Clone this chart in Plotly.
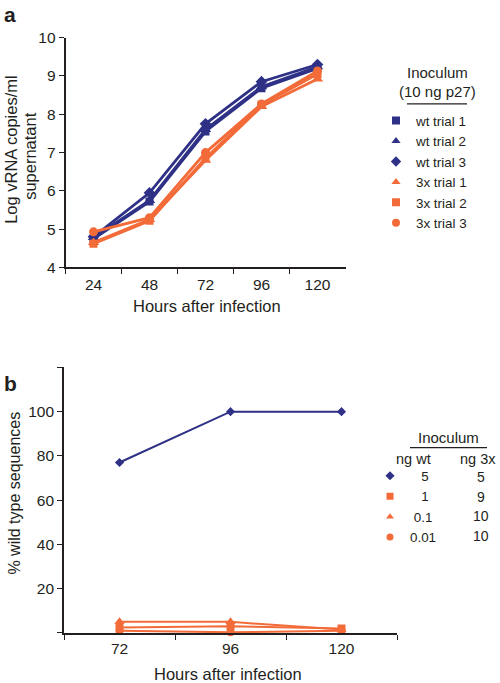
import plotly.graph_objects as go

# ---------------- data ----------------
hours_a = ["24", "48", "72", "96", "120"]
wt_trial1 = [4.75, 5.72, 7.55, 8.68, 9.20]
wt_trial2 = [4.78, 5.75, 7.60, 8.72, 9.24]
wt_trial3 = [4.80, 5.95, 7.75, 8.85, 9.30]
x3_trial1 = [4.65, 5.25, 6.80, 8.20, 8.92]
x3_trial2 = [4.62, 5.22, 6.85, 8.25, 9.05]
x3_trial3 = [4.93, 5.30, 7.00, 8.27, 9.13]

hours_b = ["72", "96", "120"]
wt_5ng = [77, 100, 100]
x3_1ng = [2.5, 3, 2]
x3_01ng = [5, 5, 1.5]
x3_001ng = [1, 0.3, 1]
ng_wt = ["5", "1", "0.1", "0.01"]
ng_3x = ["5", "9", "10", "10"]
names_a = ["wt trial 1", "wt trial 2", "wt trial 3", "3x trial 1", "3x trial 2", "3x trial 3"]

NAVY = "#2e3186"
ORANGE = "#f26b38"
TXT = "#231f20"
FONT = "Liberation Sans, Arial, sans-serif"

W, H = 500, 683
def px(x):
    return x / W
def py(t):
    # t: target pixel row in the final picture
    return 1 - ((t - 8.0) / 0.976) / H

fig = go.Figure()

series_a = [
    (wt_trial1, NAVY, "square", 8),
    (wt_trial2, NAVY, "triangle-up", 10),
    (wt_trial3, NAVY, "diamond", 9),
    (x3_trial1, ORANGE, "triangle-up", 10),
    (x3_trial2, ORANGE, "square", 8),
    (x3_trial3, ORANGE, "circle", 9),
]
for vals, col, sym, sz in series_a:
    fig.add_trace(go.Scatter(
        x=hours_a, y=vals, mode="lines+markers", xaxis="x", yaxis="y",
        line=dict(color=col, width=2.8),
        marker=dict(symbol=sym, size=sz, color=col, line=dict(width=0)),
        showlegend=False, hoverinfo="skip"))

# legend keys panel a
for (vals, col, sym, sz), nm in zip(series_a, names_a):
    fig.add_trace(go.Scatter(
        x=[None], y=[None], mode="markers", xaxis="x", yaxis="y",
        marker=dict(symbol=sym, size=8, color=col),
        name=nm, legend="legend", showlegend=True))

series_b = [
    (wt_5ng, NAVY, "diamond", 7),
    (x3_1ng, ORANGE, "square", 8),
    (x3_01ng, ORANGE, "triangle-up", 9),
    (x3_001ng, ORANGE, "circle", 8),
]
for vals, col, sym, sz in series_b:
    fig.add_trace(go.Scatter(
        x=hours_b, y=vals, mode="lines+markers", xaxis="x2", yaxis="y2",
        line=dict(color=col, width=2),
        marker=dict(symbol=sym, size=sz, color=col, line=dict(width=0)),
        showlegend=False, hoverinfo="skip", cliponaxis=False))

pad = {"5": "\u00a0\u00a0\u00a0", "1": "\u00a0\u00a0\u00a0", "0.1": "\u00a0", "0.01": ""}
for (vals, col, sym, sz), nm in zip(series_b, ng_wt):
    fig.add_trace(go.Scatter(
        x=[None], y=[None], mode="markers", xaxis="x2", yaxis="y2",
        marker=dict(symbol=sym, size=7, color=col),
        name=pad[nm] + nm, legend="legend2", showlegend=True))

axis_common = dict(showline=True, linecolor=TXT, linewidth=1.6, ticks="outside",
                   ticklen=5, tickwidth=1.4, tickcolor=TXT, showgrid=False,
                   zeroline=False, tickfont=dict(family=FONT, size=15.5, color=TXT))

fig.update_layout(
    width=W, height=H, margin=dict(l=0, r=0, t=0, b=0),
    paper_bgcolor="white", plot_bgcolor="white",
    font=dict(family=FONT, color=TXT),
    xaxis=dict(axis_common, type="category", tickson="boundaries", range=[-0.5, 4.5],
               domain=[px(65.5), px(345.5)], anchor="y", ticklabelstandoff=2),
    yaxis=dict(axis_common, range=[4, 10], dtick=1, domain=[py(266.7), py(36.7)], anchor="x"),
    xaxis2=dict(axis_common, type="category", tickson="boundaries", range=[-0.5, 2.5],
                domain=[px(64), px(397)], anchor="y2", ticklabelstandoff=1),
    yaxis2=dict(axis_common, range=[0, 120], tickvals=[0, 20, 40, 60, 80, 100, 120],
                ticktext=["", "20", "40", "60", "80", "100", ""],
                domain=[py(632.5), py(366.7)], anchor="x2"),
    legend=dict(x=px(376), y=py(104.5), xanchor="left", yanchor="top",
                font=dict(family=FONT, size=13.4, color=TXT), bgcolor="rgba(0,0,0,0)",
                borderwidth=0, tracegroupgap=0),
    legend2=dict(x=px(370), y=py(460), xanchor="left", yanchor="top",
                 font=dict(family=FONT, size=13.4, color=TXT), bgcolor="rgba(0,0,0,0)",
                 borderwidth=0, tracegroupgap=0),
)

ann = []
def add_text(x, y, text, size=15, angle=0, bold=False):
    ann.append(dict(xref="paper", yref="paper", x=px(x), y=py(y), text=("<b>%s</b>" % text) if bold else text,
                    showarrow=False, xanchor="center", yanchor="middle", textangle=angle,
                    font=dict(family=FONT, size=size, color=TXT)))

add_text(10, 14, "a", size=21, bold=True)
add_text(10, 383, "b", size=21, bold=True)
add_text(11, 149, "Log vRNA copies/ml", size=16.5, angle=-90)
add_text(30, 155, "supernatant", size=16.5, angle=-90)
add_text(15, 493, "% wild type sequences", size=16, angle=-90)
add_text(207, 305, "Hours after infection", size=16.5)
add_text(228, 673.5, "Hours after infection", size=16.5)
add_text(437, 72, "Inoculum", size=15)
add_text(437, 91, "(10 ng p27)", size=15)
add_text(448, 437, "Inoculum", size=15)
add_text(413, 458, "ng wt", size=14.5)
add_text(478, 458, "ng 3x", size=14.5)
for i, v in enumerate(ng_3x):
    add_text(481, 476.5 + i * 19.7, v, size=14)
fig.update_layout(annotations=ann)

fig.update_layout(shapes=[
    dict(type="line", xref="paper", yref="paper", x0=px(407), x1=px(467), y0=py(103), y1=py(103),
         line=dict(color=TXT, width=1.2)),
    dict(type="line", xref="paper", yref="paper", x0=px(410), x1=px(487), y0=py(447), y1=py(447),
         line=dict(color=TXT, width=1.2)),
])

fig.write_html("out.html", config={"displayModeBar": False},
               post_script="document.documentElement.style.margin='0';document.body.style.margin='0';"
                           "document.body.style.overflow='hidden';")
